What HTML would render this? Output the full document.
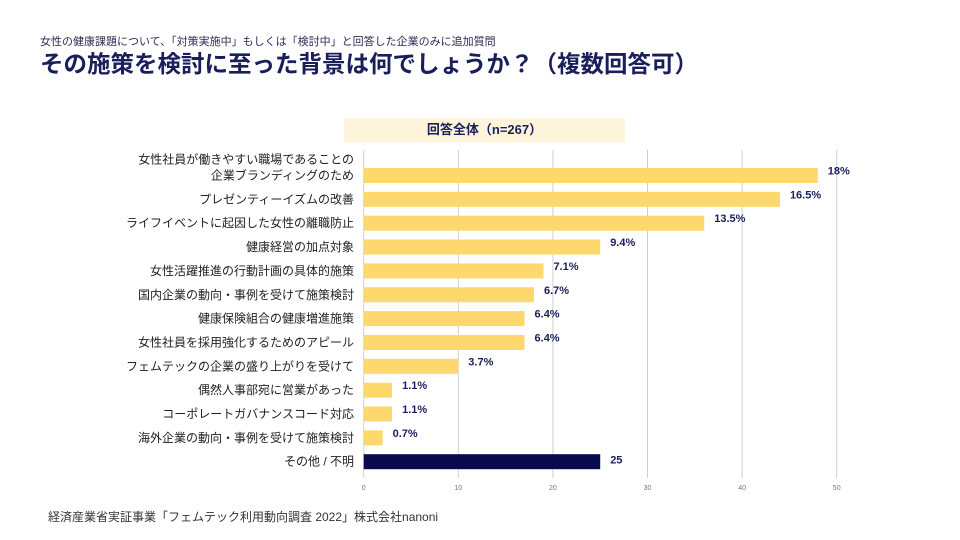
<!DOCTYPE html>
<html><head><meta charset="utf-8"><style>
body{margin:0;width:960px;height:540px;background:#fff;font-family:"Liberation Sans","Noto Sans CJK JP",sans-serif;overflow:hidden;position:relative}
.t{position:absolute;white-space:nowrap}
</style></head><body>
<div class="t" style="left:40px;top:33px;font-size:11px;color:#2a2d52">女性の健康課題について、「対策実施中」もしくは「検討中」と回答した企業のみに追加質問</div>
<div class="t" style="left:40px;top:45px;font-size:23.5px;font-weight:bold;color:#1a1f5c">その施策を検討に至った背景は何でしょうか？（複数回答可）</div>
<div class="t" style="left:344px;top:118px;width:281px;height:24px;background:#fdf4da;text-align:center;line-height:24px;font-size:13px;font-weight:bold;color:#1a1f5c">回答全体（n=267）</div>
<svg id="chart" width="960" height="540" style="position:absolute;left:0;top:0"></svg>
<div class="t" style="left:48px;top:508px;font-size:12px;color:#333">経済産業省実証事業「フェムテック利用動向調査 2022」株式会社nanoni</div>
<script>
const categories=[["女性社員が働きやすい職場であることの","企業ブランディングのため"],["プレゼンティーイズムの改善"],["ライフイベントに起因した女性の離職防止"],["健康経営の加点対象"],["女性活躍推進の行動計画の具体的施策"],["国内企業の動向・事例を受けて施策検討"],["健康保険組合の健康増進施策"],["女性社員を採用強化するためのアピール"],["フェムテックの企業の盛り上がりを受けて"],["偶然人事部宛に営業があった"],["コーポレートガバナンスコード対応"],["海外企業の動向・事例を受けて施策検討"],["その他 / 不明"]];
const values=[48,44,36,25,19,18,17,17,10,3,3,2,25];
const labels=["18%","16.5%","13.5%","9.4%","7.1%","6.7%","6.4%","6.4%","3.7%","1.1%","1.1%","0.7%","25"];
const ticks=[0,10,20,30,40,50];
const NS="http://www.w3.org/2000/svg";
const svg=document.getElementById('chart');
const x=v=>363.7+v*9.46;
const y=i=>175.5+i*23.85;
function mk(t,a){const e=document.createElementNS(NS,t);for(const k in a)e.setAttribute(k,a[k]);svg.appendChild(e);return e;}
ticks.forEach(t=>{
 const g=mk('line',{x1:x(t),x2:x(t),y1:150,y2:478,stroke:'#d0d0d0','stroke-width':1});
 
 
 const l=mk('text',{x:x(t),y:490,'font-size':7,fill:'#777','text-anchor':'middle'});
 l.textContent=t;
 
 
});
categories.forEach((c,i)=>{
 const last=i===categories.length-1;
 const b=mk('rect',{x:x(0),y:y(i)-7.5,width:x(values[i])-x(0),height:15,fill:last?'#0a0a4f':'#fdd86c'});
 
 
 const v=mk('text',{x:x(values[i])+10,y:y(i)+(last?2:-1),'font-size':11,'font-weight':'bold',fill:'#1a1f5c'});
 v.textContent=labels[i];
 
 
 c.forEach((ln,j)=>{
  const ty=c.length===2?y(i)-16+j*16+4:y(i)+4;
  const t=mk('text',{x:354,y:ty,'font-size':12,fill:'#222','text-anchor':'end'});
  t.textContent=ln;
  
  
 });
});
</script>
</body></html>
